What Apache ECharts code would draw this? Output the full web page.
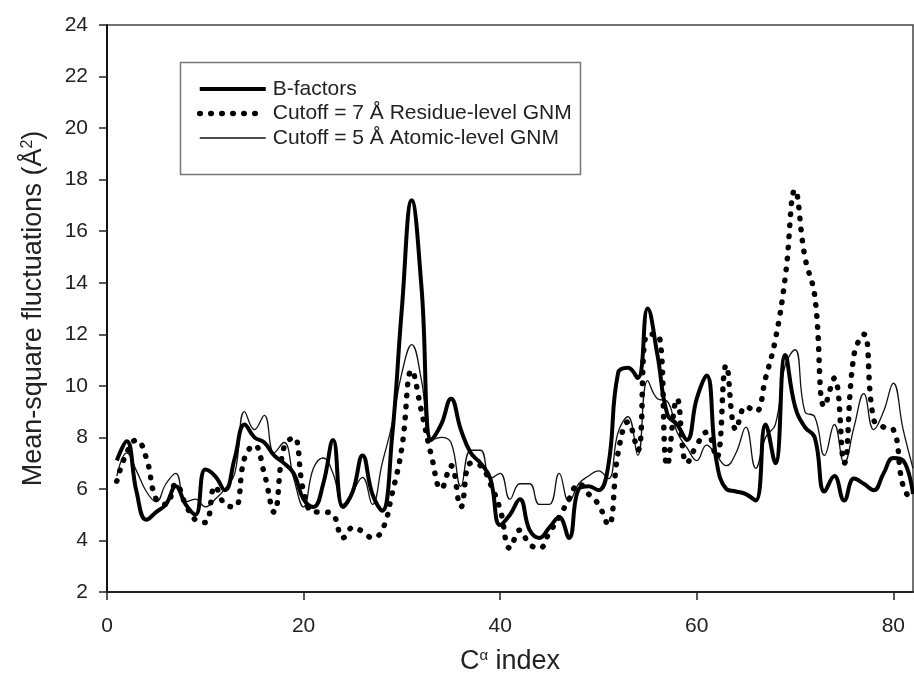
<!DOCTYPE html>
<html>
<head>
<meta charset="utf-8">
<script src="https://cdn.jsdelivr.net/npm/echarts@6/dist/echarts.min.js"></script>
<style>
html,body{margin:0;padding:0;background:#fff;}
#chart{width:914px;height:692px;}
</style>
</head>
<body>
<div id="chart"></div>
<script>
var residues = [1,2,3,4,5,6,7,8,9,10,11,12,13,14,15,16,17,18,19,20,21,22,23,24,25,26,27,28,29,30,31,32,33,34,35,36,37,38,39,40,41,42,43,44,45,46,47,48,49,50,51,52,53,54,55,56,57,58,59,60,61,62,63,64,65,66,67,68,69,70,71,72,73,74,75,76,77,78,79,80,81,82];

var bFactors = [7.1,7.85,5.9,4.8,5.1,5.4,6.1,5.4,5.0,6.75,6.5,5.95,7.2,8.5,8.0,7.8,7.3,7.0,6.6,5.6,5.3,6.2,7.9,5.3,5.9,7.3,5.8,5.15,8.0,13.0,17.2,13.8,7.9,8.5,9.5,8.3,7.4,7.0,6.4,4.6,5.0,5.6,4.4,4.1,4.5,4.9,4.1,6.0,6.1,5.95,6.9,10.5,10.7,10.3,13.0,11.2,8.9,8.5,7.9,9.5,10.4,7.1,6.0,5.9,5.8,5.55,8.5,7.0,11.2,9.2,8.4,8.0,5.9,6.5,5.55,6.4,6.2,5.95,6.6,7.2,7.1,5.8];

var residueGNM7 = [6.3,7.4,7.9,7.2,5.6,5.4,6.2,5.4,4.8,4.7,6.1,5.4,5.3,7.2,7.7,6.6,5.1,7.6,8.0,5.9,5.1,5.1,5.0,4.1,4.5,4.35,4.1,4.4,5.8,7.6,10.6,9.0,7.3,6.0,6.9,5.3,7.0,6.9,6.2,5.2,3.7,4.4,3.85,3.7,4.3,4.9,5.6,6.2,5.8,5.4,4.6,7.4,8.6,7.5,12.0,12.0,6.9,9.5,7.0,7.7,8.2,7.2,10.8,8.3,9.2,9.0,10.3,11.8,14.2,17.6,15.0,13.5,9.2,10.3,7.0,11.2,12.0,8.7,8.4,8.3,6.1,5.5];

var atomicGNM5 = [6.5,7.4,6.7,5.9,5.5,6.2,6.6,5.5,5.6,5.3,5.6,6.0,6.6,9.0,8.3,8.85,7.4,7.8,6.4,5.3,6.8,7.2,6.6,5.4,5.9,6.45,5.4,7.0,8.5,10.5,11.6,10.2,7.9,8.0,7.8,6.1,7.5,7.5,6.4,6.6,5.6,6.2,6.2,5.4,5.4,6.6,5.5,6.2,6.5,6.7,6.4,8.2,8.8,7.3,10.2,9.5,9.4,8.2,7.6,7.1,7.7,7.3,6.9,7.4,8.4,6.8,8.0,8.5,10.8,11.4,9.0,8.8,7.3,8.5,7.0,8.4,9.7,8.3,9.0,10.1,8.3,6.8];

var xTicks = [0,20,40,60,80];
var seriesNames = ['B-factors','Cutoff = 7 Å Residue-level GNM','Cutoff = 5 Å Atomic-level GNM'];

function pairs(vals){ return residues.map(function(r,i){ return [r, vals[i]]; }); }

var FONT = 'Liberation Sans, Arial, sans-serif';
var chart = echarts.init(document.getElementById('chart'), null, {renderer:'canvas'});
chart.setOption({
  animation:false,
  backgroundColor:'#fff',
  grid:{left:107,right:1,top:25,bottom:100,show:true,borderColor:'#444',borderWidth:1.5,containLabel:false},
  graphic:[{type:'rect',shape:{x:180.5,y:62.5,width:400,height:112},style:{fill:'#fff',stroke:'#777',lineWidth:1.5},z:50}],
  legend:{
    left:192,top:73,orient:'vertical',itemWidth:66,itemHeight:14,itemGap:2.5,z:60,
    data:seriesNames,
    lineStyle:{width:'inherit'},
    textStyle:{fontFamily:FONT,fontSize:21,color:'#222',lineHeight:22,padding:[0,0,0,2]},
    inactiveColor:'#000'
  },
  xAxis:{
    type:'value',min:0,max:82,interval:20,
    name:'C{sup|α} index',nameLocation:'middle',nameGap:56,
    nameTextStyle:{fontFamily:FONT,fontSize:27,color:'#222',rich:{sup:{fontFamily:FONT,fontSize:15,verticalAlign:'top',lineHeight:14,color:'#222'}}},
    axisLine:{show:true,lineStyle:{color:'#222',width:2}},
    axisTick:{show:true,inside:false,length:8,lineStyle:{color:'#222',width:1.5},customValues:xTicks},
    axisLabel:{fontFamily:FONT,fontSize:21,color:'#222',margin:24,customValues:xTicks},
    splitLine:{show:false}
  },
  yAxis:{
    type:'value',min:2,max:24,interval:2,
    name:'Mean-square fluctuations (Å{sup|2})',nameLocation:'middle',nameGap:60,nameRotate:90,
    nameTextStyle:{fontFamily:FONT,fontSize:27,color:'#222',rich:{sup:{fontFamily:FONT,fontSize:16,verticalAlign:'top',lineHeight:14,color:'#222'}}},
    axisLine:{show:true,lineStyle:{color:'#111',width:2}},
    axisTick:{show:true,inside:false,length:8,lineStyle:{color:'#222',width:1.5}},
    axisLabel:{fontFamily:FONT,fontSize:21,color:'#222',margin:19},
    splitLine:{show:false}
  },
  series:[
    {name:seriesNames[0],type:'line',data:pairs(bFactors),smooth:0.45,symbol:'none',z:5,
     itemStyle:{color:'rgba(0,0,0,0)'},
     lineStyle:{color:'#000',width:4}},
    {name:seriesNames[1],type:'line',data:pairs(residueGNM7),smooth:0.45,symbol:'none',z:4,
     itemStyle:{color:'rgba(0,0,0,0)'},
     lineStyle:{color:'#000',width:5.5,type:[0.5,10.5],cap:'round'}},
    {name:seriesNames[2],type:'line',data:pairs(atomicGNM5),smooth:0.45,symbol:'none',z:3,
     itemStyle:{color:'rgba(0,0,0,0)'},
     lineStyle:{color:'#111',width:1.3}}
  ]
});
</script>
</body>
</html>
